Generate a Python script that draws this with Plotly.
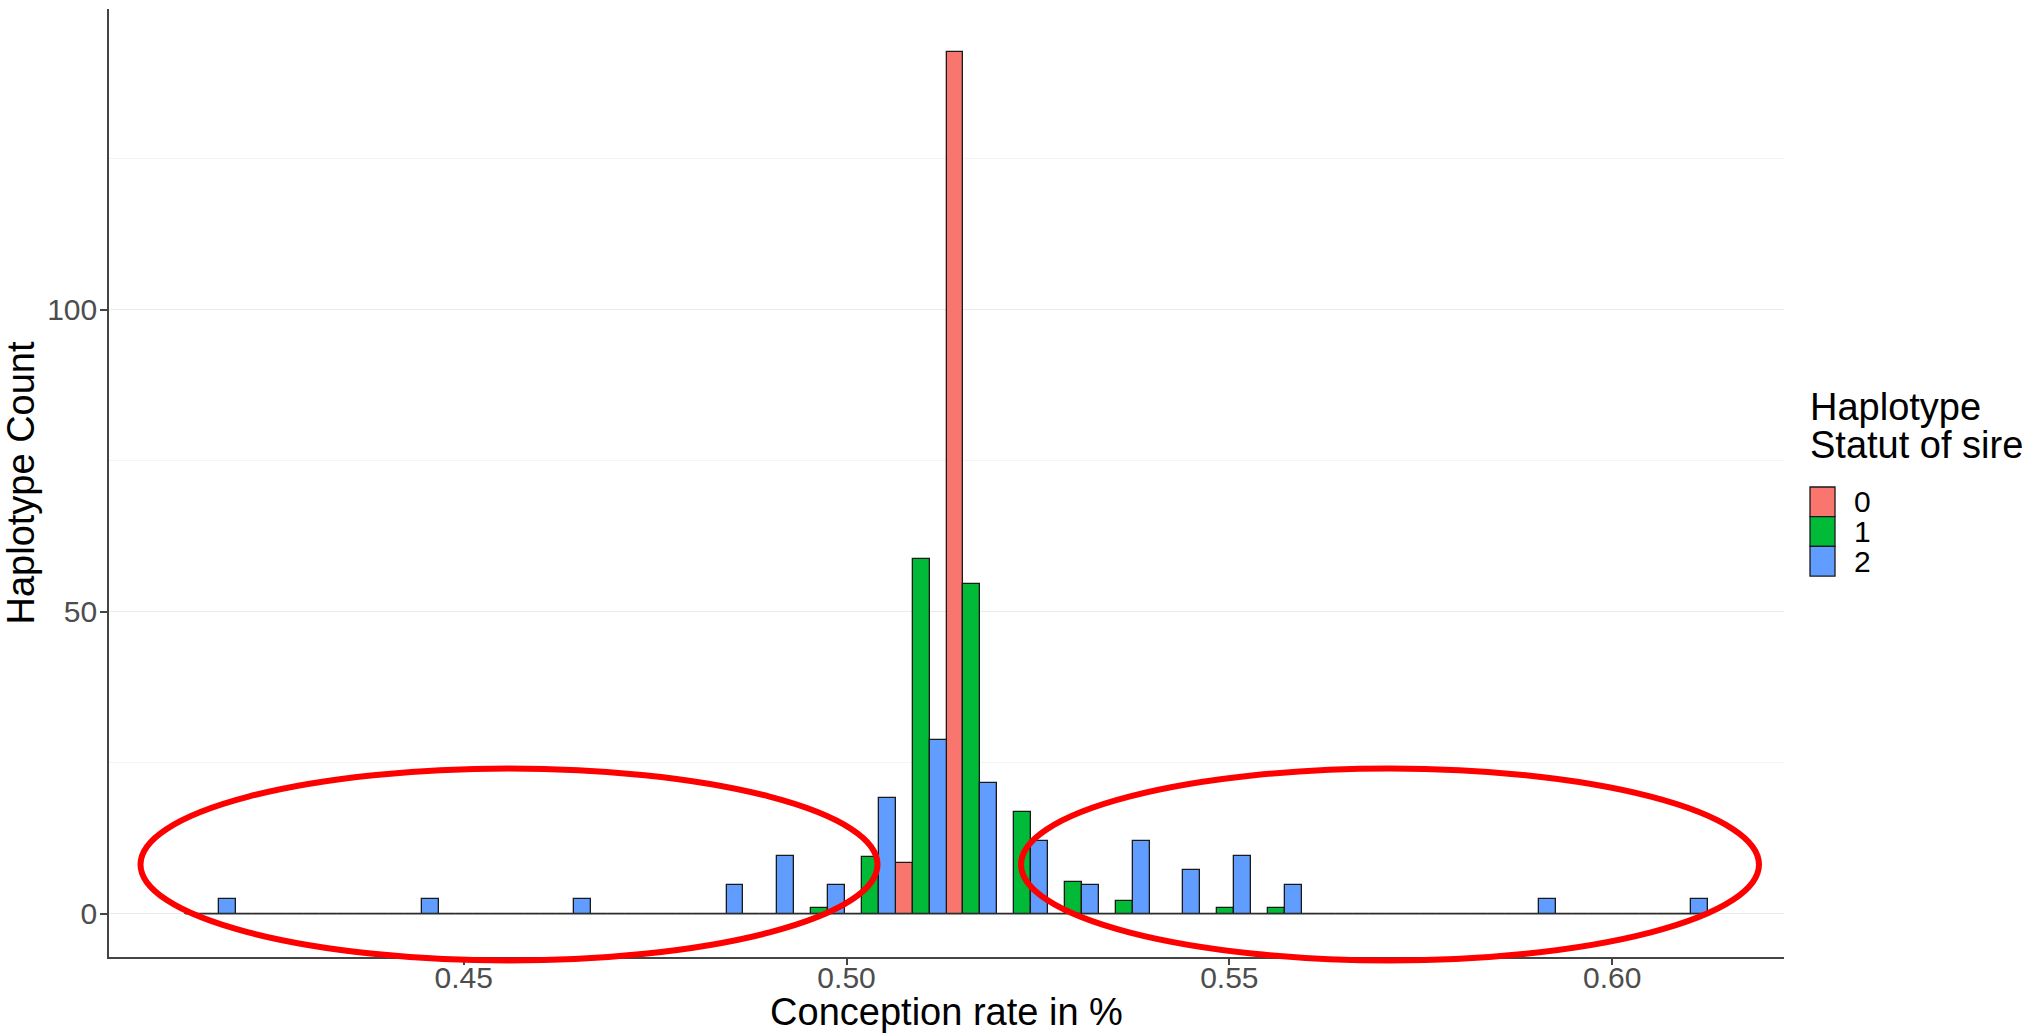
import plotly.graph_objects as go

# Histogram bins (centres) of the conception rate, 30 equal-width bins
bin_centers = [0.41692, 0.42355, 0.43018, 0.43681, 0.44344, 0.45007, 0.45670, 0.46333,
               0.46996, 0.47659, 0.48322, 0.48985, 0.49648, 0.50311, 0.50974, 0.51637,
               0.52300, 0.52963, 0.53626, 0.54289, 0.54952, 0.55615, 0.56278, 0.56941,
               0.57604, 0.58267, 0.58930, 0.59593, 0.60256, 0.60919]

# Haplotype counts per bin for each haplotype status of the sire
count_status0 = [0, 0, 0, 0, 0, 0, 0, 0, 0, 0, 0, 0, 0, 0, 8.5, 142.6,
                 0, 0, 0, 0, 0, 0, 0, 0, 0, 0, 0, 0, 0, 0]
count_status1 = [0, 0, 0, 0, 0, 0, 0, 0, 0, 0, 0, 0, 1.05, 9.45, 58.8, 54.6,
                 16.8, 5.25, 2.1, 0, 1.05, 1.05, 0, 0, 0, 0, 0, 0, 0, 0]
count_status2 = [2.4, 0, 0, 0, 2.4, 0, 0, 2.4, 0, 0, 4.8, 9.6, 4.8, 19.2, 28.8, 21.6,
                 12.0, 4.8, 12.0, 7.2, 9.6, 4.8, 0, 0, 0, 0, 2.4, 0, 0, 2.4]

status_labels = ["0", "1", "2"]
status_colors = ["#F8766D", "#00BA38", "#619CFF"]

x_ticks = [0.45, 0.50, 0.55, 0.60]
y_ticks = [0, 50, 100]

FONT = "Liberation Sans, Arial, Helvetica, sans-serif"
W, H = 2035, 1033
PL, PR, PT, PB = 109, 1784, 9, 957  # panel edges in pixels


def px(x):
    return (x - PL) / (PR - PL)


def py(y):
    return (PB - y) / (PB - PT)


fig = go.Figure()

for label, color, counts in zip(status_labels, status_colors,
                                [count_status0, count_status1, count_status2]):
    fig.add_trace(go.Bar(
        x=bin_centers, y=counts, name=label,
        marker=dict(color=color, line=dict(color="#1a1a1a", width=1.3)),
        showlegend=False,
    ))

# outline of the empty bins along the baseline
half_bin = (bin_centers[1] - bin_centers[0]) / 2
fig.add_trace(go.Scatter(
    x=[bin_centers[0] - half_bin, bin_centers[-1] + half_bin], y=[0, 0],
    mode="lines", line=dict(color="#333333", width=1.4),
    showlegend=False, hoverinfo="skip",
))

# data ranges with 5% padding on each side
x_lo = bin_centers[0] - half_bin
x_hi = bin_centers[-1] + half_bin
x_pad = (x_hi - x_lo) * 0.05
y_max = max(count_status0 + count_status1 + count_status2)
y_pad = y_max * 0.05

fig.update_layout(
    width=W, height=H,
    margin=dict(l=PL, r=W - PR, t=PT, b=H - PB),
    paper_bgcolor="white", plot_bgcolor="white",
    barmode="group", bargap=0, bargroupgap=0,
    font=dict(family=FONT),
    showlegend=False,
    xaxis=dict(
        range=[x_lo - x_pad, x_hi + x_pad],
        tickvals=x_ticks, ticktext=[f"{v:.2f}" for v in x_ticks],
        showgrid=False, zeroline=False, automargin=False,
        showline=True, linecolor="#444444", linewidth=1.6,
        ticks="outside", ticklen=6, tickwidth=1.5, tickcolor="#444444",
        ticklabelstandoff=-13,
        tickfont=dict(size=30, color="#4D4D4D", family=FONT),
        title=dict(text="Conception rate in %", font=dict(size=38, color="black", family=FONT),
                   standoff=6),
    ),
    yaxis=dict(
        range=[-y_pad, y_max + y_pad],
        tickvals=y_ticks,
        showgrid=True, gridcolor="#EBEBEB", gridwidth=1.3,
        minor=dict(dtick=25, tick0=0, showgrid=True, gridcolor="#F4F4F4", gridwidth=1),
        zeroline=False, automargin=False,
        showline=True, linecolor="#444444", linewidth=1.6,
        ticks="outside", ticklen=7, tickwidth=1.5, tickcolor="#444444",
        ticklabelstandoff=-3,
        tickfont=dict(size=30, color="#4D4D4D", family=FONT),
        title=dict(text="Haplotype Count", font=dict(size=38, color="black", family=FONT),
                   standoff=8),
    ),
)

# highlighted tails of the distribution
for x0, x1 in [(140.5, 877.5), (1021, 1759)]:
    fig.add_shape(type="circle", xref="paper", yref="paper",
                  x0=px(x0), x1=px(x1), y0=py(960.5), y1=py(768.5),
                  line=dict(color="#FF0000", width=6), layer="above")

# legend: title, colour keys and labels
fig.add_annotation(x=px(1808), y=py(407), xref="paper", yref="paper",
                   text="Haplotype", showarrow=False, xanchor="left", yanchor="middle",
                   font=dict(size=38, color="black", family=FONT))
fig.add_annotation(x=px(1808), y=py(445), xref="paper", yref="paper",
                   text="Statut of sire", showarrow=False, xanchor="left", yanchor="middle",
                   font=dict(size=38, color="black", family=FONT))
key_top, key_h = 487, 29.7
for i, (label, color) in enumerate(zip(status_labels, status_colors)):
    y0 = key_top + i * key_h
    fig.add_shape(type="rect", xref="paper", yref="paper",
                  x0=px(1810), x1=px(1835), y0=py(y0 + key_h), y1=py(y0),
                  fillcolor=color, line=dict(color="#1a1a1a", width=1.3))
    fig.add_annotation(x=px(1852), y=py(y0 + key_h / 2), xref="paper", yref="paper",
                       text=label, showarrow=False, xanchor="left", yanchor="middle",
                       font=dict(size=30, color="black", family=FONT))

fig.write_html("out.html")
